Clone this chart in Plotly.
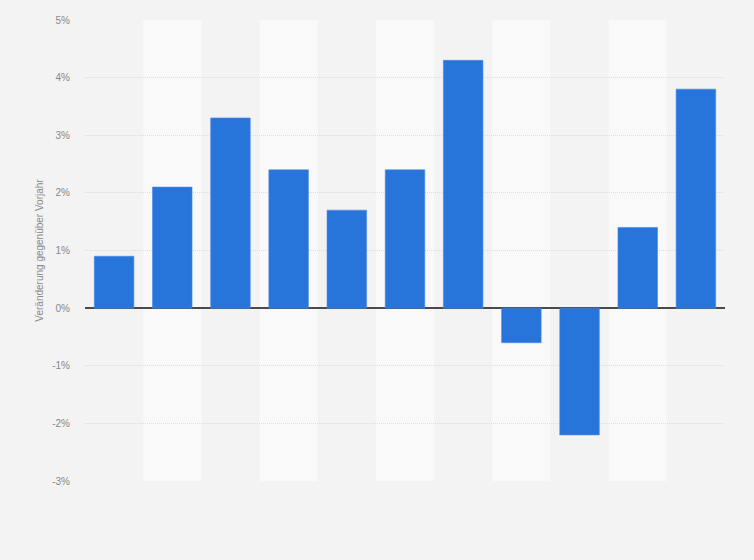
import plotly.graph_objects as go

# Veränderung gegenüber Vorjahr (in %)
categories = ["1", "2", "3", "4", "5", "6", "7", "8", "9", "10", "11"]
values = [0.9, 2.1, 3.3, 2.4, 1.7, 2.4, 4.3, -0.6, -2.2, 1.4, 3.8]
tick_vals = [-3, -2, -1, 0, 1, 2, 3, 4, 5]
tick_text = [f"{v}%" for v in tick_vals]

fig = go.Figure()
fig.add_trace(go.Bar(x=categories, y=values,
                     marker=dict(color="#2774da", line=dict(color="#4a8ae6", width=0.6)),
                     width=0.68))

# light stripes behind every second category
shapes = []
for i in range(len(categories)):
    if i % 2 == 1:
        shapes.append(dict(type="rect", xref="x", yref="y", x0=i - 0.5, x1=i + 0.5,
                           y0=tick_vals[0], y1=tick_vals[-1], layer="below",
                           fillcolor="#f9f9f9", line=dict(width=0)))

fig.update_layout(
    width=754, height=560,
    margin=dict(l=85, r=29, t=20, b=79),
    paper_bgcolor="#f3f3f3", plot_bgcolor="#f3f3f3",
    font=dict(family="Arial, Liberation Sans, sans-serif", size=10, color="#888888"),
    shapes=shapes,
    showlegend=False,
)
fig.update_xaxes(showticklabels=False, showgrid=False, zeroline=False,
                 range=[-0.5, len(categories) - 0.5])
fig.update_yaxes(range=[tick_vals[0], tick_vals[-1]], tickvals=tick_vals, ticktext=tick_text,
                 showgrid=True, gridcolor="#dcdcdc", griddash="1px,1px", gridwidth=1,
                 zeroline=True, zerolinecolor="#4a4a4a", zerolinewidth=1.6,
                 ticks="", ticklabelstandoff=14,
                 title=dict(text="Veränderung gegenüber Vorjahr",
                            font=dict(size=10, color="#888888"), standoff=6))

fig.write_html("out.html", config={"displayModeBar": False},
               post_script="document.body.style.margin='0';document.body.style.background='#f3f3f3';")
